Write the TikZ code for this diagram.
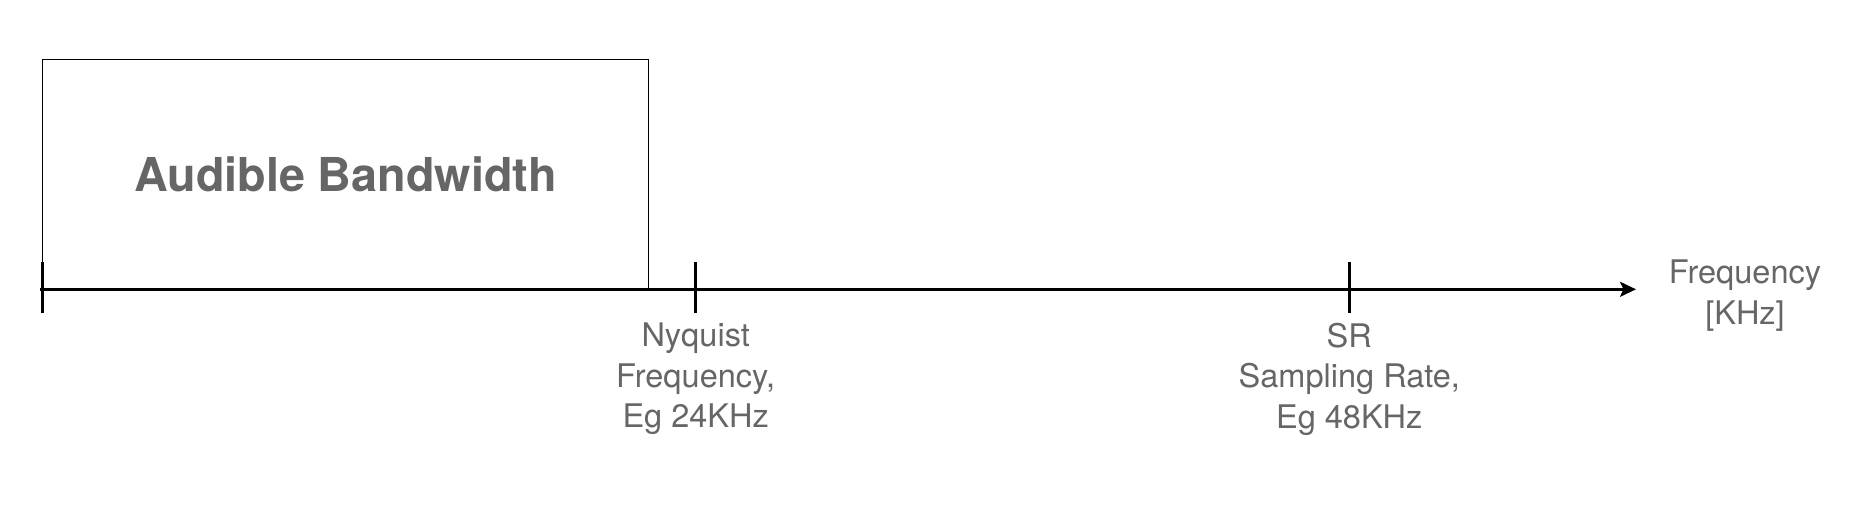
\documentclass[tikz,border=0pt]{standalone}
\usepackage{fontspec}
\setmainfont{TeX Gyre Heros}
\usetikzlibrary{arrows.meta}
\definecolor{labelgray}{HTML}{666666}
\tikzset{
  ticklabel/.style={anchor=north,inner sep=0pt,align=center,text=labelgray,
    font=\fontsize{9.25}{11.52}\selectfont},
  tickmark/.style={line width=0.75pt}
}
\begin{document}
\begin{tikzpicture}
\useasboundingbox (-0.423,-2.207) rectangle (18.257,2.893);
\coordinate (start) at (-0.02,0.);
\coordinate (tip) at (15.937,0.);
\coordinate (nyq) at (6.534,0.);
\coordinate (sr) at (13.07,0.);
\draw [line width=0.3pt] (0.,0.) rectangle (6.064,2.3);
\draw (3.032,1.15) node[text=labelgray,font=\fontsize{13.29}{16}\selectfont\bfseries] (band) {Audible Bandwidth};
\draw [line width=0.75pt,-{Stealth[length=0.16cm,width=0.15cm,inset=0.035cm]}] (start)-- (tip);
\draw [tickmark] (0.,0.27)-- (0.,-0.24);
\draw [tickmark] (6.534,0.27)-- (6.534,-0.24);
\draw [tickmark] (13.07,0.27)-- (13.07,-0.24);
\draw (6.534,-0.33) node[ticklabel] (nyqlabel) {Nyquist\\Frequency,\\Eg 24KHz};
\draw (13.07,-0.33) node[ticklabel] (srlabel) {SR\\Sampling Rate,\\Eg 48KHz};
\draw (17.027,0.30) node[ticklabel] (axislabel) {Frequency\\{[KHz]}};
\end{tikzpicture}
\end{document}
